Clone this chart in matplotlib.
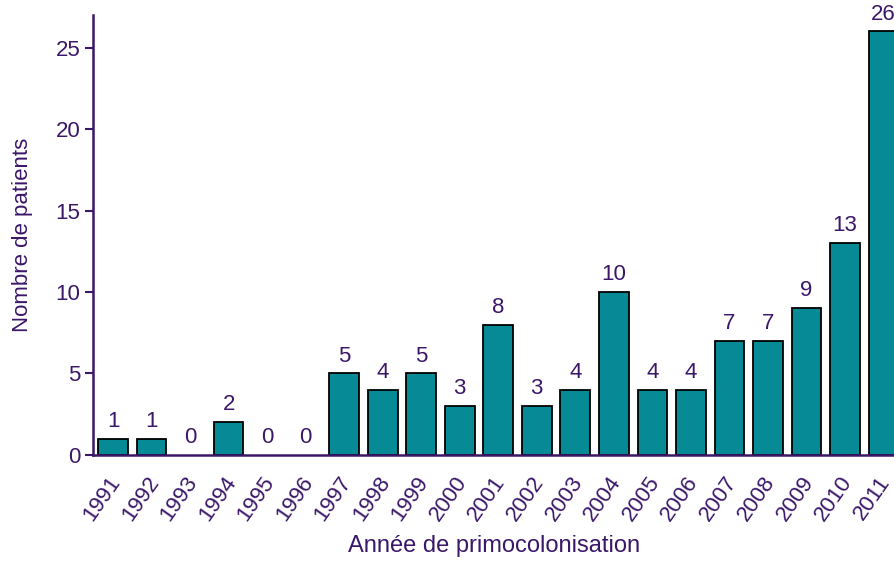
import matplotlib.pyplot as plt
import matplotlib.transforms as mtransforms
import numpy as np

plt.rcParams['font.family'] = ['Liberation Sans', 'DejaVu Sans']

annees = ['1991', '1992', '1993', '1994', '1995', '1996', '1997', '1998', '1999', '2000',
          '2001', '2002', '2003', '2004', '2005', '2006', '2007', '2008', '2009', '2010', '2011']
patients = [1, 1, 0, 2, 0, 0, 5, 4, 5, 3, 8, 3, 4, 10, 4, 4, 7, 7, 9, 13, 26]

violet = '#3a1768'
sarcelle = '#058a96'

fig = plt.figure(figsize=(8.95, 5.63), dpi=100)
ax = fig.add_axes([0.104, 0.192, 0.896, 0.781])

x = np.arange(len(annees))
# pas de contour pour les annees sans patient
lw = [1.3 if v > 0 else 0 for v in patients]
ax.bar(x, patients, width=0.77, color=sarcelle, edgecolor='black', linewidth=lw, zorder=2)

for xi, v in zip(x, patients):
    ax.annotate(str(v), (xi, v), xytext=(0, 5), textcoords='offset points',
                ha='center', va='bottom', fontsize=16, color=violet)

ax.set_xlim(-0.52, 20.3)
ax.set_ylim(0, 27)
ax.set_yticks([0, 5, 10, 15, 20, 25])
ax.set_xticks(x)
ax.set_xticklabels(annees, rotation=55, ha='right', va='center', rotation_mode='anchor')

ax.tick_params(axis='y', length=6, width=1.5, color=violet, labelcolor=violet, labelsize=16, pad=3)
ax.tick_params(axis='x', length=0, labelcolor=violet, labelsize=16, pad=17)

decalage = mtransforms.ScaledTranslation(3 / 100, 0, fig.dpi_scale_trans)
for lab in ax.get_xticklabels():
    lab.set_transform(lab.get_transform() + decalage)

for s in ['top', 'right']:
    ax.spines[s].set_visible(False)
for s in ['left', 'bottom']:
    ax.spines[s].set_color(violet)
    ax.spines[s].set_linewidth(1.8)
ax.spines['bottom'].set_zorder(3)

ax.set_ylabel('Nombre de patients', fontsize=16, color=violet, labelpad=16)
ax.set_xlabel('Année de primocolonisation', fontsize=17, color=violet, labelpad=7)

fig.savefig('out.png', dpi=100)
